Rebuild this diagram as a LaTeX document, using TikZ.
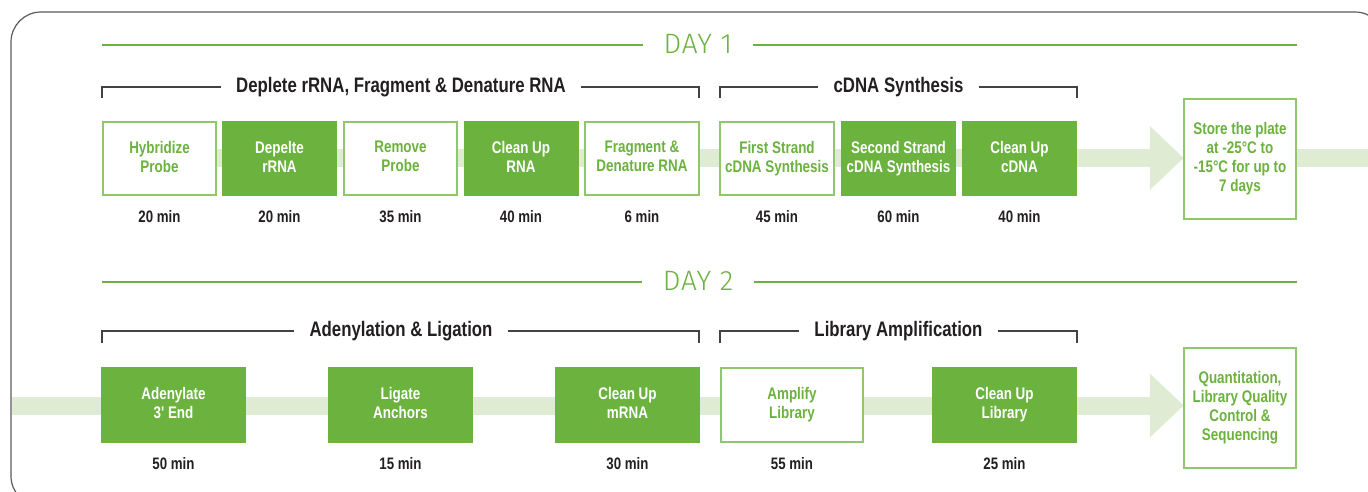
\documentclass[tikz,border=0pt]{standalone}
\usepackage{fontspec}
\usetikzlibrary{arrows.meta,calc,backgrounds}
\newfontfamily\condfont{Liberation Sans}[FakeStretch=0.8]
\newfontfamily\dayfont{Fira Sans Light}[LetterSpace=3]
\definecolor{dkgreen}{HTML}{6CB23F}
\definecolor{ltgreen}{HTML}{8FC76C}
\definecolor{bandgreen}{HTML}{DFEBD3}
\definecolor{inkdark}{HTML}{231F20}
\definecolor{framegray}{HTML}{5A5A5A}
% strut that keeps multi-line labels centred on their capitals
\newcommand\capstrut{\rule[-4pt]{0pt}{20pt}}
\tikzset{
  boxtext/.style={font=\condfont\bfseries\fontsize{16.8}{19}\selectfont, align=center, inner sep=0pt, outer sep=0pt,
    execute at begin node=\capstrut, execute at end node=\capstrut},
  filledbox/.style={boxtext, fill=dkgreen, text=white, minimum height=75pt},
  outlinebox/.style={boxtext, draw=ltgreen, line width=1.6pt, fill=white, text=dkgreen, minimum height=73.5pt},
  endbox/.style={boxtext, draw=ltgreen, line width=1.6pt, fill=white, text=dkgreen, minimum width=112.5pt, minimum height=120.5pt},
  mins/.style={font=\condfont\bfseries\fontsize{16.6}{18}\selectfont, text=inkdark, inner sep=0pt},
  heading/.style={font=\condfont\bfseries\fontsize{21}{24}\selectfont, text=inkdark, inner xsep=15pt, inner ysep=0pt},
  daylabel/.style={font=\dayfont\fontsize{28}{32}\selectfont, text=dkgreen, inner xsep=21pt, inner ysep=0pt},
  dayline/.style={draw=dkgreen, line width=2pt},
  bracket/.style={draw=inkdark!85, line width=1.1pt},
  band/.style={draw=bandgreen, line width=18pt},
  bandarrow/.style={band, -{Triangle[width=62pt,length=34pt]}},
}
\begin{document}
\begin{tikzpicture}[x=1pt,y=-1pt]
\useasboundingbox (0,0) rectangle (1368,491);
\clip (0,0) rectangle (1368,491);
% outer frame
\draw[draw=framegray, line width=1.2pt, rounded corners=30pt] (11,12) rectangle (1385,506);

% ---------- Day 1 ----------
\node[daylabel] (d1) at (698,44) {DAY 1};
\draw[dayline] (102,45) -- (d1.west |- 0,45);
\draw[dayline] (d1.east |- 0,45) -- (1297,45);

\node[heading] (h1) at (401,87) {Deplete rRNA, Fragment \& Denature RNA};
\draw[bracket] (102,98) -- (102,87) -- (h1.west);
\draw[bracket] (h1.east) -- (699,87) -- (699,98);
\node[heading] (h2) at (898.5,87) {cDNA Synthesis};
\draw[bracket] (720,98) -- (720,87) -- (h2.west);
\draw[bracket] (h2.east) -- (1077,87) -- (1077,98);

\node[outlinebox, minimum width=113.5pt] (b1) at (159.5,158.5) {Hybridize\\Probe};
\node[filledbox,  minimum width=115pt]   (b2) at (279.5,158.5) {Depelte\\rRNA};
\node[outlinebox, minimum width=113.5pt] (b3) at (400.5,158.5) {Remove\\Probe};
\node[filledbox,  minimum width=115pt]   (b4) at (521,158.5)   {Clean Up\\RNA};
\node[outlinebox, minimum width=113.5pt] (b5) at (642,158.5)   {Fragment \&\\Denature RNA};
\node[outlinebox, minimum width=113.5pt] (b6) at (777,158.5)   {First Strand\\cDNA Synthesis};
\node[filledbox,  minimum width=115pt]   (b7) at (898.5,158.5) {Second Strand\\cDNA Synthesis};
\node[filledbox,  minimum width=115pt]   (b8) at (1019.5,158.5){Clean Up\\cDNA};
\node[endbox] (s1) at (1240,159) {Store the plate\\at -25°C to\\-15°C for up to\\7 days};
\coordinate (r1) at (1380,158);

\foreach \b/\t in {b1/20, b2/20, b3/35, b4/40, b5/6, b6/45, b7/60, b8/40}
  \node[mins] (m\b) at (\b.center |- 0,217) {\t\ min};

% ---------- Day 2 ----------
\node[daylabel] (d2) at (698,281) {DAY 2};
\draw[dayline] (102,282) -- (d2.west |- 0,282);
\draw[dayline] (d2.east |- 0,282) -- (1297,282);

\node[heading] (h3) at (401,331) {Adenylation \& Ligation};
\draw[bracket] (102,343) -- (102,331) -- (h3.west);
\draw[bracket] (h3.east) -- (699,331) -- (699,343);
\node[heading] (h4) at (898.5,331) {Library Amplification};
\draw[bracket] (720,343) -- (720,331) -- (h4.west);
\draw[bracket] (h4.east) -- (1077,331) -- (1077,343);

\coordinate (l2) at (12,405.5);
\node[filledbox,  minimum width=145pt, minimum height=76pt] (a1) at (173.5,405) {Adenylate\\3' End};
\node[filledbox,  minimum width=145pt, minimum height=76pt] (a2) at (400.5,405) {Ligate\\Anchors};
\node[filledbox,  minimum width=145pt, minimum height=76pt] (a3) at (627.5,405) {Clean Up\\mRNA};
\node[outlinebox, minimum width=142.5pt, minimum height=74.5pt] (a4) at (792,405) {Amplify\\Library};
\node[filledbox,  minimum width=145pt, minimum height=76pt] (a5) at (1004.5,405) {Clean Up\\Library};
\node[endbox] (s2) at (1240,408) {Quantitation,\\Library Quality\\Control \&\\Sequencing};

\foreach \b/\t in {a1/50, a2/15, a3/30, a4/55, a5/25}
  \node[mins] (m\b) at (\b.center |- 0,464) {\t\ min};

% process bands running behind the step boxes
\begin{pgfonlayer}{background}
  \draw[bandarrow] (b1.west |- 0,158) -- (s1.west |- 0,158);
  \draw[band] (s1.east |- 0,158) -- (r1);
  \draw[bandarrow] (l2) -- (s2.west |- l2);
\end{pgfonlayer}
\end{tikzpicture}
\end{document}
